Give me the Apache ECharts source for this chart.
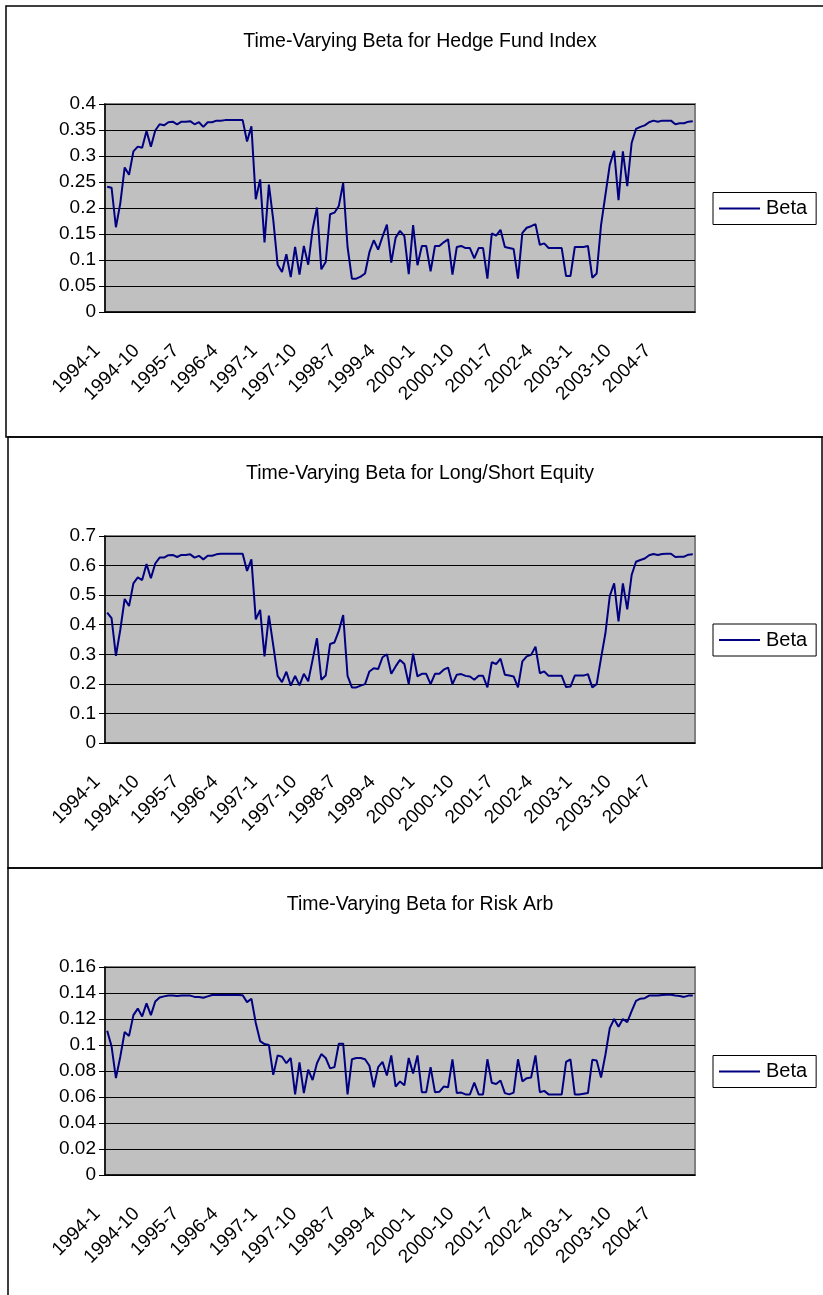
<!DOCTYPE html>
<html>
<head>
<meta charset="utf-8">
<script src="https://cdn.jsdelivr.net/npm/echarts@6/dist/echarts.min.js"></script>
<style>
html,body{margin:0;padding:0;background:#fff;}
#chart{width:823px;height:1295px;}
</style>
</head>
<body>
<div id="chart"></div>
<script>
const categories = [
 '1994-1','1994-2','1994-3','1994-4','1994-5','1994-6','1994-7','1994-8','1994-9','1994-10','1994-11','1994-12',
 '1995-1','1995-2','1995-3','1995-4','1995-5','1995-6','1995-7','1995-8','1995-9','1995-10','1995-11','1995-12',
 '1996-1','1996-2','1996-3','1996-4','1996-5','1996-6','1996-7','1996-8','1996-9','1996-10','1996-11','1996-12',
 '1997-1','1997-2','1997-3','1997-4','1997-5','1997-6','1997-7','1997-8','1997-9','1997-10','1997-11','1997-12',
 '1998-1','1998-2','1998-3','1998-4','1998-5','1998-6','1998-7','1998-8','1998-9','1998-10','1998-11','1998-12',
 '1999-1','1999-2','1999-3','1999-4','1999-5','1999-6','1999-7','1999-8','1999-9','1999-10','1999-11','1999-12',
 '2000-1','2000-2','2000-3','2000-4','2000-5','2000-6','2000-7','2000-8','2000-9','2000-10','2000-11','2000-12',
 '2001-1','2001-2','2001-3','2001-4','2001-5','2001-6','2001-7','2001-8','2001-9','2001-10','2001-11','2001-12',
 '2002-1','2002-2','2002-3','2002-4','2002-5','2002-6','2002-7','2002-8','2002-9','2002-10','2002-11','2002-12',
 '2003-1','2003-2','2003-3','2003-4','2003-5','2003-6','2003-7','2003-8','2003-9','2003-10','2003-11','2003-12',
 '2004-1','2004-2','2004-3','2004-4','2004-5','2004-6','2004-7','2004-8','2004-9','2004-10','2004-11','2004-12',
 '2005-1','2005-2','2005-3'
];

const titles = [
 'Time-Varying Beta for Hedge Fund Index',
 'Time-Varying Beta for Long/Short Equity',
 'Time-Varying Beta for Risk Arb'
];

const seriesName = 'Beta';

const hedgeFundBeta = [
 0.241,0.239,0.163,0.209,0.278,0.264,0.309,0.318,0.316,0.348,
 0.318,0.349,0.361,0.359,0.365,0.366,0.361,0.366,0.366,0.367,
 0.361,0.365,0.356,0.365,0.365,0.368,0.368,0.369,0.369,0.369,
 0.369,0.369,0.328,0.357,0.217,0.255,0.134,0.245,0.177,0.091,
 0.077,0.111,0.067,0.125,0.072,0.127,0.091,0.159,0.201,0.082,
 0.096,0.188,0.191,0.204,0.248,0.125,0.064,0.064,0.068,0.074,
 0.115,0.138,0.120,0.145,0.168,0.095,0.143,0.156,0.146,0.073,
 0.167,0.090,0.127,0.127,0.078,0.127,0.127,0.134,0.140,0.072,
 0.125,0.127,0.123,0.123,0.103,0.123,0.123,0.064,0.151,0.147,
 0.158,0.125,0.123,0.121,0.064,0.152,0.162,0.165,0.169,0.129,
 0.132,0.123,0.123,0.123,0.123,0.069,0.069,0.125,0.125,0.125,
 0.127,0.066,0.074,0.167,0.225,0.283,0.310,0.215,0.309,0.242,
 0.325,0.352,0.356,0.359,0.365,0.368,0.366,0.368,0.368,0.368,
 0.361,0.363,0.363,0.366,0.367
];

const longShortBeta = [
 0.441,0.422,0.295,0.383,0.487,0.463,0.540,0.560,0.551,0.605,
 0.557,0.607,0.627,0.627,0.635,0.636,0.629,0.636,0.636,0.638,
 0.627,0.633,0.621,0.633,0.633,0.638,0.640,0.640,0.640,0.640,
 0.640,0.640,0.582,0.621,0.418,0.450,0.293,0.431,0.330,0.227,
 0.206,0.241,0.194,0.227,0.195,0.234,0.209,0.281,0.354,0.214,
 0.228,0.335,0.340,0.379,0.433,0.227,0.188,0.188,0.194,0.199,
 0.242,0.253,0.250,0.290,0.300,0.234,0.259,0.281,0.267,0.199,
 0.302,0.225,0.234,0.234,0.199,0.234,0.234,0.248,0.255,0.199,
 0.231,0.233,0.227,0.225,0.214,0.227,0.227,0.188,0.273,0.267,
 0.285,0.231,0.228,0.225,0.188,0.276,0.293,0.298,0.326,0.236,
 0.242,0.227,0.227,0.227,0.227,0.189,0.191,0.228,0.228,0.228,
 0.233,0.188,0.199,0.287,0.371,0.497,0.540,0.411,0.540,0.452,
 0.568,0.613,0.619,0.624,0.635,0.639,0.636,0.639,0.640,0.640,
 0.629,0.630,0.630,0.637,0.638
];

const riskArbBeta = [
 0.111,0.099,0.0745,0.091,0.110,0.107,0.123,0.128,0.122,0.132,
 0.123,0.1335,0.1366,0.1374,0.138,0.138,0.1377,0.138,0.138,0.138,
 0.137,0.137,0.1364,0.1374,0.1384,0.1384,0.1385,0.1385,0.1385,0.1384,
 0.1384,0.1383,0.133,0.1356,0.117,0.103,0.1007,0.100,0.077,0.092,
 0.091,0.086,0.090,0.062,0.0866,0.063,0.081,0.073,0.086,0.093,
 0.090,0.082,0.083,0.101,0.101,0.062,0.089,0.090,0.090,0.089,
 0.084,0.0675,0.083,0.087,0.0765,0.092,0.068,0.072,0.069,0.090,
 0.078,0.092,0.0637,0.0637,0.083,0.0637,0.064,0.068,0.0675,0.089,
 0.063,0.0634,0.062,0.062,0.071,0.062,0.062,0.089,0.071,0.070,
 0.0727,0.063,0.062,0.0634,0.089,0.072,0.0745,0.075,0.092,0.0637,
 0.0647,0.062,0.062,0.062,0.062,0.087,0.089,0.062,0.062,0.0625,
 0.063,0.0886,0.088,0.075,0.0925,0.113,0.120,0.114,0.120,0.1176,
 0.126,0.134,0.1356,0.136,0.138,0.138,0.138,0.1384,0.1387,0.1387,
 0.138,0.1377,0.137,0.138,0.138
];

const yMax = [0.4, 0.7, 0.16];
const yStep = [0.05, 0.1, 0.02];
const allSeries = [hedgeFundBeta, longShortBeta, riskArbBeta];

const FONT = "'Liberation Sans', Arial, sans-serif";
const grids = [
 {left:105, top:104, width:590, height:208},
 {left:105, top:536, width:590, height:207},
 {left:105, top:967, width:590, height:208}
];
const panels = [
 {x:6, y:6, w:840, h:431},
 {x:8, y:437, w:814, h:431},
 {x:8, y:868, w:840, h:440}
];

const chart = echarts.init(document.getElementById('chart'), null, {renderer:'canvas'});

const option = {
 animation:false,
 backgroundColor:'#fff',
 textStyle:{fontFamily:FONT},
 title: titles.map((t,i)=>({
   text:t, left:420, textAlign:'center', top:grids[i].top-72, padding:0,
   textStyle:{fontFamily:FONT, fontSize:19.5, fontWeight:'normal', color:'#000'}
 })),
 legend: grids.map((g,i)=>({
   data:[{name:seriesName, icon:'rect'}],
   left:713, top:g.top + g.height/2 - 15.5,
   orient:'vertical',
   itemWidth:41, itemHeight:2, itemGap:0,
   padding:[6,9,6,6],
   borderColor:'#000', borderWidth:1,
   backgroundColor:'#fff',
   textStyle:{fontFamily:FONT, fontSize:20, color:'#000', padding:[0,0,0,1]}
 })),
 graphic: panels.map(p=>({
   type:'rect', silent:true, z:-1,
   shape:{x:p.x, y:p.y, width:p.w, height:p.h},
   style:{fill:'none', stroke:'#000', lineWidth:1.5}
 })),
 grid: grids.map(g=>({
   left:g.left, top:g.top, width:g.width, height:g.height,
   show:true, backgroundColor:'#C0C0C0', borderColor:'#808080', borderWidth:2,
   containLabel:false
 })),
 xAxis: grids.map((g,i)=>({
   type:'category', gridIndex:i, data:categories, boundaryGap:true,
   axisLine:{lineStyle:{color:'#000', width:1.5}},
   axisTick:{interval:0, length:6, lineStyle:{color:'#000', width:1}},
   axisLabel:{interval:8, rotate:45, margin:26, padding:[0,14,0,0],
     fontFamily:FONT, fontSize:19, color:'#000'},
   splitLine:{show:false}
 })),
 yAxis: grids.map((g,i)=>({
   type:'value', gridIndex:i, min:0, max:yMax[i], interval:yStep[i],
   axisLine:{show:true, lineStyle:{color:'#000', width:1.5}},
   axisTick:{show:true, length:6, lineStyle:{color:'#000'}},
   axisLabel:{margin:9, fontFamily:FONT, fontSize:19, color:'#000'},
   splitLine:{show:true, lineStyle:{color:'#000', width:1}}
 })),
 series: allSeries.map((d,i)=>({
   name:seriesName, type:'line', xAxisIndex:i, yAxisIndex:i, data:d,
   showSymbol:false, symbol:'none',
   lineStyle:{color:'#000080', width:2},
   itemStyle:{color:'#000080'}
 }))
};
chart.setOption(option);
</script>
</body>
</html>
